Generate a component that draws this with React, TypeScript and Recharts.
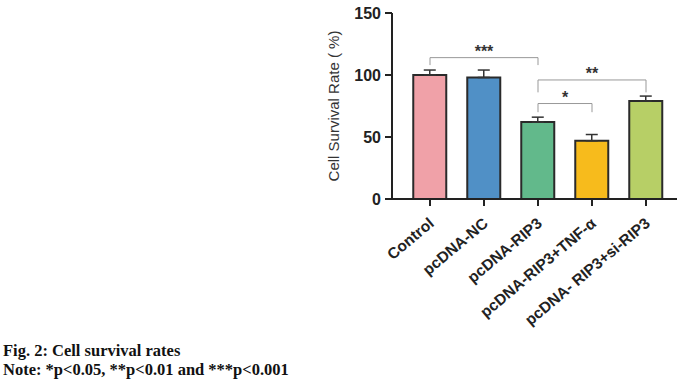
import React from 'react'
import { BarChart, Bar, Cell, XAxis, YAxis, ErrorBar, ReferenceLine } from 'recharts'

const groups = ['Control', 'pcDNA-NC', 'pcDNA-RIP3', 'pcDNA-RIP3+TNF-α', 'pcDNA- RIP3+si-RIP3']
const survival = [100, 98, 62, 47, 79]
const sd = [4, 6, 4, 5, 4]
const barColors = ['#f0a1a8', '#5090c6', '#62b98b', '#f7bb1c', '#b7cf66']
const yTicks = [0, 50, 100, 150]

// significance brackets: from group, to group, bracket height, leg bottom, stars
const brackets = [
  { from: 'Control', to: 'pcDNA-RIP3', top: 114, left: 108, right: 108, stars: '***' },
  { from: 'pcDNA-RIP3', to: 'pcDNA- RIP3+si-RIP3', top: 96, left: 86, right: 86, stars: '**' },
  { from: 'pcDNA-RIP3', to: 'pcDNA-RIP3+TNF-α', top: 77, left: 70, right: 70, stars: '*' },
]

const data = groups.map((name, i) => ({ name, value: survival[i], err: [0, sd[i]] }))

const font = 'Arial, "Liberation Sans", sans-serif'

const XTick = ({ x, y, payload }: any) => (
  <g transform={`translate(${x + 5},${y + 17})`}>
    <text
      textAnchor="end"
      transform="rotate(-40)"
      fontFamily={font}
      fontWeight="bold"
      fontSize={15.5}
      fill="#222"
    >
      {payload.value}
    </text>
  </g>
)

export default function App() {
  return (
    <div style={{ position: 'absolute', left: 0, top: 0, width: 695, height: 387, background: '#fff' }}>
      <BarChart
        width={695}
        height={330}
        data={data}
        margin={{ top: 13, right: 18, bottom: 0, left: 332 }}
        barCategoryGap="19%"
      >
        <XAxis
          dataKey="name"
          interval={0}
          height={131}
          padding={{ left: 11, right: 4 }}
          tickSize={7}
          stroke="#222"
          strokeWidth={2}
          tick={<XTick />}
        />
        <YAxis
          width={60}
          domain={[0, 150]}
          ticks={yTicks}
          tickSize={7}
          tickMargin={4}
          stroke="#222"
          strokeWidth={2}
          tick={{ fontFamily: font, fontWeight: 'bold', fontSize: 16, fill: '#222' }}
          label={{
            value: 'Cell Survival Rate ( %)',
            angle: -90,
            position: 'insideLeft',
            offset: 2,
            style: { fontFamily: font, fontSize: 15, fill: '#333', textAnchor: 'middle' },
          }}
        />
        <Bar dataKey="value" stroke="#2a2a2a" strokeWidth={2} isAnimationActive={false}>
          {data.map((d, i) => (
            <Cell key={d.name} fill={barColors[i]} />
          ))}
          <ErrorBar dataKey="err" width={6} stroke="#333" strokeWidth={1.5} direction="y" />
        </Bar>
        {brackets.map((b) => (
          <React.Fragment key={b.stars}>
            <ReferenceLine
              segment={[{ x: b.from, y: b.top }, { x: b.to, y: b.top }]}
              stroke="#999"
              strokeWidth={1}
              ifOverflow="visible"
              label={{
                value: b.stars,
                position: 'top',
                offset: 1,
                style: { fontFamily: font, fontWeight: 'bold', fontSize: 16, fill: '#333' },
              }}
            />
            <ReferenceLine
              segment={[{ x: b.from, y: b.top }, { x: b.from, y: b.left }]}
              stroke="#999"
              strokeWidth={1}
              ifOverflow="visible"
            />
            <ReferenceLine
              segment={[{ x: b.to, y: b.top }, { x: b.to, y: b.right }]}
              stroke="#999"
              strokeWidth={1}
              ifOverflow="visible"
            />
          </React.Fragment>
        ))}
      </BarChart>
      <div
        style={{
          position: 'absolute',
          left: 3,
          top: 341,
          fontFamily: '"Liberation Serif", "Times New Roman", serif',
          fontWeight: 'bold',
          fontSize: 16.5,
          lineHeight: '19px',
          color: '#111',
        }}
      >
        <div>Fig. 2: Cell survival rates</div>
        <div>Note: *p&lt;0.05, **p&lt;0.01 and ***p&lt;0.001</div>
      </div>
    </div>
  )
}
